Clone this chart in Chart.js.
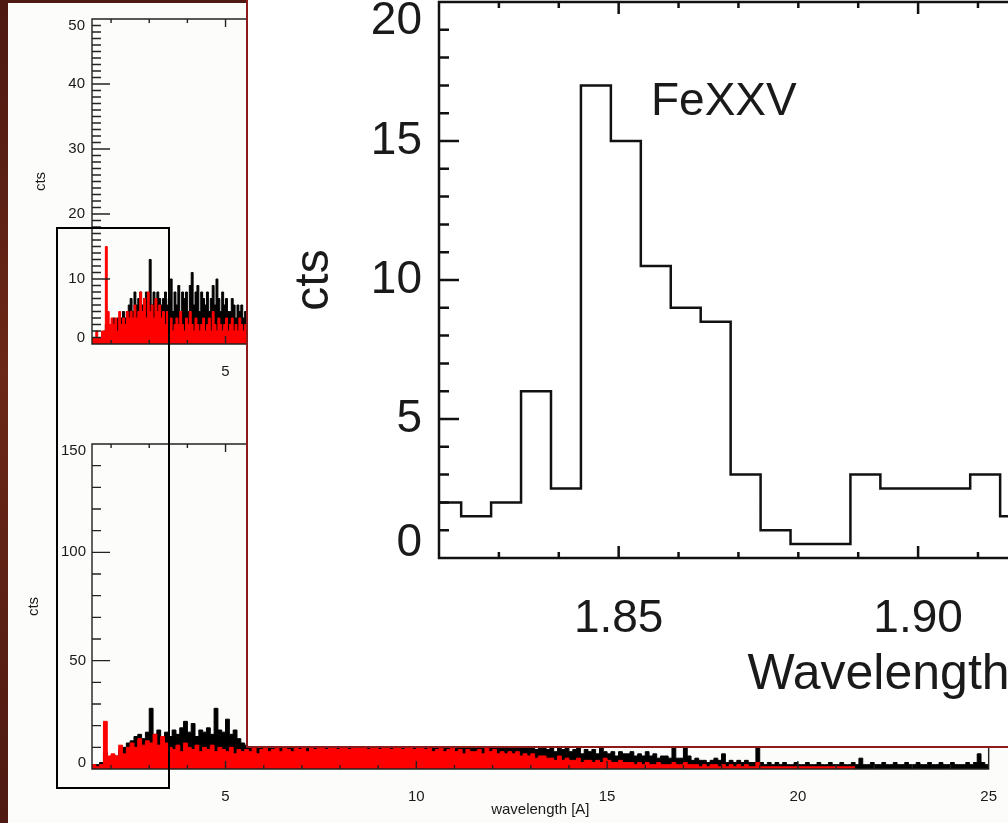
<!DOCTYPE html>
<html lang="en">
  <head>
    <meta charset="UTF-8" />
    <title>FeXXV spectrum</title>
    <script src="https://cdn.jsdelivr.net/npm/chart.js"></script>
    <style>
      html, body { margin: 0; padding: 0; width: 1008px; height: 823px; overflow: hidden; }
      body { background: linear-gradient(to bottom, #4d1911, #6b2717 45%, #4e1a12); position: relative; }
      #panel { position: absolute; left: 8px; top: 3px; width: 1000px; height: 820px; background: #fcfcfa; }
      canvas { position: absolute; }
      #box { position: absolute; left: 56px; top: 227px; width: 110px; height: 558px; border: 2px solid #000; }
      #inset { position: absolute; left: 246px; top: -20px; width: 1400px; height: 764px; background: #fff; border: 2px solid #8c1c1c; overflow: hidden; }
    </style>
  </head>
  <body>
    <div id="panel"></div>
    <canvas id="topChart" width="1008" height="390" style="left:0;top:0"></canvas>
    <canvas id="bottomChart" width="1008" height="423" style="left:0;top:400px"></canvas>
    <div id="box"></div>
    <div id="inset">
      <canvas id="insetChart" width="1300" height="764" style="left:0;top:0"></canvas>
    </div>

    <script>
      // ---- data ----
      const specStart = 1.5; // first bin edge [A]

      // upper small panel, 0.05 A bins (only 1.5 - 5.6 A is visible)
      const topBin = 0.05;
      const topRed = [
        1, 1, 2, 1, 1, 2,
        2, 15, 5, 3,
        4, 3, 4, 2, 5, 3, 4, 3, 5, 4,
        5, 4, 6, 4, 5, 8, 5, 7, 4, 8,
        5, 6, 4, 7, 5, 6, 4, 5, 3, 5,
        3, 4, 2, 3, 4, 3, 5, 3, 2, 4,
        3, 5, 3, 2, 4, 3, 2, 3, 4, 2,
        3, 4, 2, 5, 3, 2, 4, 3, 2, 3,
        4, 2, 3, 4, 2, 3, 2, 4, 3, 2, 3, 2,
      ];
      const topBlack = [
        1, 1, 1, 1, 1, 1, 2, 3, 3, 2,
        3, 4, 3, 4, 3, 4, 5, 4, 5, 6,
        7, 5, 8, 6, 7, 8, 6, 7, 8, 7,
        13, 6, 8, 5, 8, 7, 6, 7, 8, 6,
        7, 10, 5, 8, 6, 9, 5, 8, 7, 8,
        5, 9, 11, 6, 8, 9, 5, 8, 7, 6,
        8, 5, 7, 9, 6, 10, 7, 5, 8, 6,
        7, 5, 5, 7, 6, 4, 6, 5, 6, 4, 5, 6,
      ];

      // lower small panel, 0.1 A bins
      const bottomBin = 0.1;
      const bottomBlack = [
        2, 2, 3, 8, 5, 6, 6, 9, 10, 12,
        13, 15, 16, 14, 17, 28, 16, 18, 14, 17,
        15, 18, 16, 19, 22, 17, 21, 15, 18, 17,
        19, 16, 28, 18, 17, 23, 16, 18, 14, 12,
        11, 15, 13, 14, 12, 16, 13, 15, 12, 14,
        13, 12, 15, 12, 14, 11, 13, 12, 14, 11,
        12, 13, 11, 14, 12, 13, 11, 12, 13, 11,
        12, 11, 13, 12, 11, 13, 12, 11, 12, 13,
        11, 12, 13, 11, 12, 11, 13, 12, 11, 12,
        13, 11, 12, 11, 12, 10, 12, 11, 13, 11,
        12, 10, 12, 14, 11, 12, 10, 11, 12, 10,
        11, 12, 10, 11, 10, 12, 9, 11, 10, 9,
        10, 8, 11, 9, 10, 8, 9, 10, 7, 9,
        8, 9, 7, 11, 8, 7, 8, 6, 8, 7,
        7, 8, 6, 7, 6, 8, 6, 7, 5, 6,
        6, 5, 11, 5, 5, 12, 6, 4, 5, 4,
        4, 3, 4, 5, 4, 7, 3, 4, 3, 4,
        3, 4, 3, 3, 12, 3, 2, 3, 2, 3,
        2, 3, 2, 2, 3, 2, 2, 3, 2, 2,
        3, 2, 2, 3, 2, 2, 3, 2, 2, 3,
        2, 5, 2, 2, 3, 2, 2, 3, 2, 2,
        3, 2, 2, 3, 2, 2, 3, 2, 2, 3,
        2, 2, 3, 2, 2, 3, 2, 2, 2, 3,
        2, 3, 7, 3, 2,
      ];
      const bottomRed = [
        2, 1, 2, 22, 6, 7, 6, 11, 7, 10,
        12, 10, 14, 11, 13, 12, 16, 11, 15, 12,
        10, 9, 11, 8, 12, 10, 9, 11, 8, 10,
        9, 11, 8, 10, 9, 8, 10, 7, 9, 8,
        9, 8, 10, 7, 9, 11, 8, 9, 10, 8,
        10, 9, 8, 11, 9, 10, 8, 11, 9, 10,
        11, 9, 10, 12, 9, 11, 10, 9, 11, 10,
        10, 11, 9, 10, 12, 9, 11, 10, 9, 11,
        10, 9, 11, 10, 9, 10, 11, 9, 10, 8,
        9, 10, 8, 9, 10, 8, 9, 7, 9, 8,
        8, 9, 7, 10, 8, 9, 7, 8, 7, 8,
        7, 8, 6, 7, 6, 7, 5, 6, 6, 5,
        5, 4, 6, 4, 5, 4, 4, 5, 3, 4,
        4, 3, 4, 3, 5, 4, 3, 3, 4, 3,
        3, 3, 2, 3, 2, 3, 2, 2, 3, 2,
        2, 2, 3, 2, 2, 3, 2, 2, 2, 1,
        2, 1, 2, 2, 1, 2, 1, 2, 1, 2,
        1, 2, 1, 1, 3, 1, 1, 1, 1, 1,
        1, 1, 1, 1, 1, 1, 1, 1, 1, 1,
        1, 1, 1, 1, 1, 1, 1, 1, 1, 1,
      ];

      // inset: FeXXV region, 0.005 A bins
      const insetStart = 1.8187;
      const insetBin = 0.005;
      const insetCts = [2, 1.5, 2, 6, 2.5, 17, 15, 10.5, 9, 8.5, 3, 1, 0.5, 0.5, 3, 2.5, 2.5, 2.5, 3, 1.5];

      // tick labels
      const smallXTicks = [5, 10, 15, 20, 25];
      const topYTicks = [0, 10, 20, 30, 40, 50];
      const bottomYTicks = [0, 50, 100, 150];
      const insetXTicks = [1.85, 1.9, 1.95];
      const insetYTicks = [0, 5, 10, 15, 20];

      const FONT = "'Liberation Sans', Arial, sans-serif";

      // histogram points from left bin edges (stepped: 'before')
      function steps(start, width, counts) {
        const pts = counts.map((c, i) => ({ x: start + i * width, y: c }));
        pts.push({ x: start + counts.length * width, y: counts[counts.length - 1] });
        return pts;
      }

      function spectrum(data, color) {
        return {
          data,
          stepped: true,
          borderColor: color,
          backgroundColor: color,
          borderWidth: 1,
          fill: 'origin',
          pointRadius: 0,
          clip: 0,
        };
      }

      // IDL-like box with inward ticks on all four sides + clamped y labels
      function frame(o) {
        return {
          id: 'frame',
          afterDatasetsDraw(chart) {
            const { ctx, chartArea: a } = chart;
            const x = chart.scales.x, y = chart.scales.y;
            ctx.save();
            ctx.strokeStyle = o.color;
            ctx.lineWidth = o.lw;
            ctx.beginPath();
            ctx.rect(a.left, a.top, a.right - a.left, a.bottom - a.top);
            for (let k = Math.ceil(x.min / o.xMinor); k * o.xMinor <= x.max + 1e-9; k++) {
              const v = k * o.xMinor;
              const px = x.getPixelForValue(v);
              if (px <= a.left + 1 || px >= a.right - 1) continue;
              const len = o.xMajor.some(m => Math.abs(m - v) < 1e-6) ? o.xLen : o.xLen / 2;
              ctx.moveTo(px, a.bottom); ctx.lineTo(px, a.bottom - len);
              ctx.moveTo(px, a.top); ctx.lineTo(px, a.top + len);
            }
            for (let k = Math.ceil(y.min / o.yMinor); k * o.yMinor <= y.max + 1e-9; k++) {
              const v = k * o.yMinor;
              const py = y.getPixelForValue(v);
              if (py <= a.top + 1 || py >= a.bottom - 1) continue;
              const len = o.yMajor.some(m => Math.abs(m - v) < 1e-6) ? o.yLen : o.yLen / 2;
              ctx.moveTo(a.left, py); ctx.lineTo(a.left + len, py);
              ctx.moveTo(a.right, py); ctx.lineTo(a.right - len, py);
            }
            ctx.stroke();

            ctx.fillStyle = '#1a1a1a';
            ctx.font = o.font;
            ctx.textAlign = 'right';
            ctx.textBaseline = 'middle';
            o.yMajor.forEach(v => {
              let py = y.getPixelForValue(v);
              py = Math.min(Math.max(py, a.top + o.clampTop), a.bottom - o.clampBottom);
              ctx.fillText(String(v), a.left - o.labelGap, py);
            });

            if (o.note) {
              ctx.textAlign = 'left';
              ctx.textBaseline = 'alphabetic';
              ctx.font = o.note.font;
              ctx.fillText(o.note.text, x.getPixelForValue(o.note.x), y.getPixelForValue(o.note.y));
            }
            ctx.restore();
          },
        };
      }

      function baseOptions(p) {
        return {
          responsive: false,
          animation: false,
          events: [],
          layout: { padding: p.padding },
          plugins: { legend: { display: false }, tooltip: { enabled: false } },
          scales: {
            x: {
              type: 'linear',
              min: p.xMin,
              max: p.xMax,
              grid: { display: false },
              border: { display: false },
              afterFit: s => { s.height = p.xHeight; },
              afterBuildTicks: s => { s.ticks = p.xTicks.map(v => ({ value: v })); },
              ticks: {
                autoSkip: false,
                maxRotation: 0,
                padding: p.xPad,
                color: '#1a1a1a',
                font: { family: FONT, size: p.tickSize, lineHeight: 1.2 },
                callback: p.xFmt,
              },
              title: {
                display: !!p.xTitle,
                text: p.xTitle,
                color: '#1a1a1a',
                font: { family: FONT, size: p.xTitleSize, lineHeight: 1.2 },
                padding: { top: 0, bottom: p.xTitlePad },
              },
            },
            y: {
              min: 0,
              max: p.yMax,
              grid: { display: false },
              border: { display: false },
              ticks: { display: false },
              afterFit: s => { s.width = p.yWidth; },
              title: {
                display: true,
                text: 'cts',
                color: '#1a1a1a',
                font: { family: FONT, size: p.yTitleSize, lineHeight: 1.2 },
                padding: { top: p.yTitlePad, bottom: 0 },
              },
            },
          },
        };
      }

      // upper small panel
      new Chart(document.getElementById('topChart'), {
        type: 'line',
        data: {
          datasets: [
            spectrum(steps(specStart, topBin, topRed), '#ff0000'),
            spectrum(steps(specStart, topBin, topBlack), '#000000'),
          ],
        },
        options: baseOptions({
          padding: { left: 0, top: 19, right: 15, bottom: 0 },
          xMin: 1.5, xMax: 25, xTicks: smallXTicks, xHeight: 46, xPad: 11,
          xFmt: v => String(v), tickSize: 15,
          yMax: 50, yWidth: 92, yTitleSize: 15, yTitlePad: 32,
        }),
        plugins: [frame({
          color: '#222', lw: 1.4, xMinor: 1, xMajor: smallXTicks, xLen: 8,
          yMinor: 1, yMajor: topYTicks, yLen: 18,
          font: '15px ' + FONT, clampTop: 6.5, clampBottom: 6.5, labelGap: 7,
        })],
      });

      // lower small panel
      new Chart(document.getElementById('bottomChart'), {
        type: 'line',
        data: {
          datasets: [
            spectrum(steps(specStart, bottomBin, bottomRed), '#ff0000'),
            spectrum(steps(specStart, bottomBin, bottomBlack), '#000000'),
          ],
        },
        options: baseOptions({
          padding: { left: 0, top: 44, right: 15, bottom: 0 },
          xMin: 1.5, xMax: 25, xTicks: smallXTicks, xHeight: 54, xPad: 11,
          xFmt: v => String(v), tickSize: 15,
          xTitle: 'wavelength [A]', xTitleSize: 15, xTitlePad: 4,
          yMax: 150, yWidth: 92, yTitleSize: 15, yTitlePad: 25,
        }),
        plugins: [frame({
          color: '#222', lw: 1.4, xMinor: 1, xMajor: smallXTicks, xLen: 8,
          yMinor: 10, yMajor: bottomYTicks, yLen: 18,
          font: '15px ' + FONT, clampTop: 6.5, clampBottom: 6.5, labelGap: 6,
        })],
      });

      // inset zoom on the FeXXV line
      new Chart(document.getElementById('insetChart'), {
        type: 'line',
        data: {
          datasets: [{
            data: steps(insetStart, insetBin, insetCts),
            stepped: true,
            borderColor: '#111',
            borderWidth: 2.5,
            fill: false,
            pointRadius: 0,
            clip: 0,
          }],
        },
        options: baseOptions({
          padding: { left: 0, top: 20, right: 155, bottom: 0 },
          xMin: 1.82, xMax: 1.9793, xTicks: insetXTicks, xHeight: 188, xPad: 26,
          xFmt: v => v.toFixed(2), tickSize: 46,
          xTitle: 'Wavelength [A]', xTitleSize: 50, xTitlePad: 41,
          yMax: 20, yWidth: 191, yTitleSize: 48, yTitlePad: 38,
        }),
        plugins: [frame({
          color: '#111', lw: 2.5, xMinor: 0.01, xMajor: insetXTicks, xLen: 12,
          yMinor: 1, yMajor: insetYTicks, yLen: 20,
          font: '46px ' + FONT, clampTop: 19, clampBottom: 15, labelGap: 17,
          note: { text: 'FeXXV', x: 1.8554, y: 15.94, font: '46px ' + FONT },
        })],
      });
    </script>
  </body>
</html>
